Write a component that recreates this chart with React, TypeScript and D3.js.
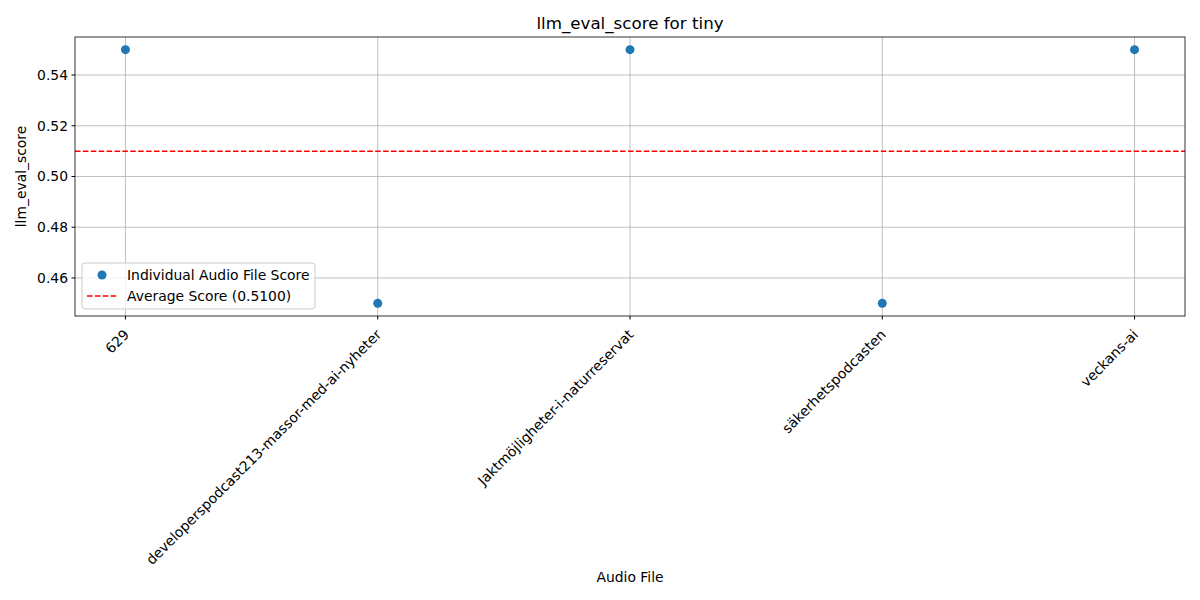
import React, { useEffect, useRef } from "react";
import * as d3 from "d3";

const files = [
  "629",
  "developerspodcast213-massor-med-ai-nyheter",
  "Jaktmöjligheter-i-naturreservat",
  "säkerhetspodcasten",
  "veckans-ai",
];
const scores = [0.55, 0.45, 0.55, 0.45, 0.55];
const average = 0.51;
const yTicks = [0.46, 0.48, 0.5, 0.52, 0.54];

const App: React.FC = () => {
  const ref = useRef<SVGSVGElement | null>(null);

  useEffect(() => {
    if (!ref.current) return;
    const svg = d3.select(ref.current);
    svg.selectAll("*").remove();
    const left = 75, right = 1185, top = 37, bottom = 316;
    const font = "DejaVu Sans, sans-serif";
    const fs = 13.9;

    const x = d3.scaleLinear().domain([-0.2, files.length - 1 + 0.2]).range([left, right]);
    const y = d3.scaleLinear().domain([0.445, 0.555]).range([bottom, top]);

    // grid
    files.forEach((_, i) => {
      svg.append("line").attr("x1", x(i)).attr("x2", x(i)).attr("y1", top).attr("y2", bottom)
        .attr("stroke", "#b0b0b0").attr("stroke-width", 0.8);
    });
    yTicks.forEach(t => {
      svg.append("line").attr("x1", left).attr("x2", right).attr("y1", y(t)).attr("y2", y(t))
        .attr("stroke", "#b0b0b0").attr("stroke-width", 0.8);
    });

    // average line
    svg.append("line").attr("x1", left).attr("x2", right).attr("y1", y(average)).attr("y2", y(average))
      .attr("stroke", "red").attr("stroke-width", 1.5).attr("stroke-dasharray", "5.5,2.4");

    // points
    scores.forEach((s, i) => {
      svg.append("circle").attr("cx", x(i)).attr("cy", y(s)).attr("r", 4.5).attr("fill", "#1f77b4");
    });

    // frame
    svg.append("rect").attr("x", left).attr("y", top).attr("width", right - left).attr("height", bottom - top)
      .attr("fill", "none").attr("stroke", "black").attr("stroke-width", 0.8);

    // y ticks
    yTicks.forEach(t => {
      svg.append("line").attr("x1", left - 3.5).attr("x2", left).attr("y1", y(t)).attr("y2", y(t)).attr("stroke", "black");
      svg.append("text").attr("x", left - 7).attr("y", y(t)).attr("dy", "0.35em").attr("text-anchor", "end")
        .attr("font-family", font).attr("font-size", fs).text(t.toFixed(2));
    });

    // x ticks
    files.forEach((f, i) => {
      svg.append("line").attr("x1", x(i)).attr("x2", x(i)).attr("y1", bottom).attr("y2", bottom + 3.5).attr("stroke", "black");
      svg.append("text").attr("transform", `translate(${x(i) + 1},${bottom + 16}) rotate(-45)`)
        .attr("text-anchor", "end").attr("dy", "0.35em")
        .attr("font-family", font).attr("font-size", fs).text(f);
    });

    svg.append("text").attr("x", (left + right) / 2).attr("y", 29).attr("text-anchor", "middle")
      .attr("font-family", font).attr("font-size", 16.7).text("llm_eval_score for tiny");
    svg.append("text").attr("x", (left + right) / 2).attr("y", 582).attr("text-anchor", "middle")
      .attr("font-family", font).attr("font-size", fs).text("Audio File");
    svg.append("text").attr("transform", `translate(26,${(top + bottom) / 2}) rotate(-90)`).attr("text-anchor", "middle")
      .attr("font-family", font).attr("font-size", fs).text("llm_eval_score");

    // legend
    const lg = svg.append("g").attr("transform", "translate(82,263)");
    lg.append("rect").attr("width", 233).attr("height", 46).attr("rx", 3).attr("fill", "white")
      .attr("fill-opacity", 0.8).attr("stroke", "#cccccc");
    lg.append("circle").attr("cx", 20).attr("cy", 12).attr("r", 4.5).attr("fill", "#1f77b4");
    lg.append("text").attr("x", 45).attr("y", 12).attr("dy", "0.35em").attr("font-family", font).attr("font-size", fs)
      .text("Individual Audio File Score");
    lg.append("line").attr("x1", 5).attr("x2", 35).attr("y1", 33).attr("y2", 33).attr("stroke", "red")
      .attr("stroke-width", 1.5).attr("stroke-dasharray", "5.5,2.4");
    lg.append("text").attr("x", 45).attr("y", 33).attr("dy", "0.35em").attr("font-family", font).attr("font-size", fs)
      .text(`Average Score (${average.toFixed(4)})`);
  }, []);

  return (
    <svg ref={ref} width={1200} height={600}
      style={{ position: "absolute", left: 0, top: 0, background: "white" }} />
  );
};

export default App;
